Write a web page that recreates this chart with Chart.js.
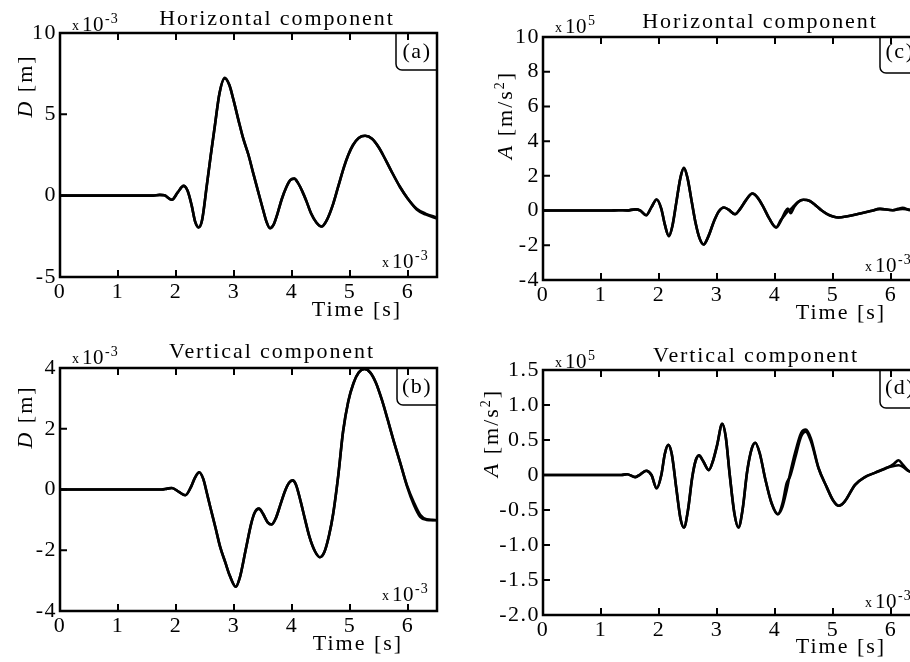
<!DOCTYPE html>
<html>
<head>
<meta charset="utf-8">
<script src="https://cdn.jsdelivr.net/npm/chart.js@4.4.1/dist/chart.umd.min.js"></script>
<style>
html,body{margin:0;padding:0;background:#fff;overflow:hidden;width:910px;height:662px;position:relative}
canvas{position:absolute;display:block}
</style>
</head>
<body>
<script>
// ---- tick labels ----
const xTicks = [0, 1, 2, 3, 4, 5, 6];
const yTicksA = [-5, 0, 5, 10];
const yTicksB = [-4, -2, 0, 2, 4];
const yTicksC = [-4, -2, 0, 2, 4, 6, 8, 10];
const yTicksD = [-2, -1.5, -1, -0.5, 0, 0.5, 1, 1.5];

// ---- (a) horizontal displacement, x1e-3 m, time x1e-3 s ----
const timeA = [0, 1.6, 1.72, 1.8, 1.93, 2.03, 2.13, 2.2, 2.27, 2.33, 2.39, 2.45, 2.53, 2.6, 2.67, 2.75, 2.84, 2.92, 2.99, 3.08, 3.16, 3.25, 3.33, 3.42, 3.5, 3.56, 3.62, 3.68, 3.75, 3.82, 3.9, 3.97, 4.04, 4.1, 4.18, 4.25, 4.33, 4.42, 4.51, 4.6, 4.71, 4.8, 4.9, 4.97, 5.05, 5.15, 5.26, 5.38, 5.5, 5.57, 5.7, 5.86, 6.0, 6.15, 6.3, 6.5];
const dispA1 = [0, 0, 0.05, 0.02, -0.25, 0.2, 0.6, 0.3, -0.6, -1.6, -1.95, -1.5, 0.6, 2.5, 4.3, 6.3, 7.25, 6.8, 5.9, 4.6, 3.5, 2.5, 1.4, 0.2, -0.85, -1.6, -2.0, -1.8, -1.1, -0.25, 0.5, 0.95, 1.05, 0.8, 0.25, -0.35, -1.1, -1.65, -1.9, -1.5, -0.5, 0.6, 1.8, 2.5, 3.1, 3.55, 3.68, 3.5, 2.95, 2.5, 1.6, 0.55, -0.2, -0.85, -1.15, -1.4];
const dispA2 = [0, 0, 0.05, 0.02, -0.25, 0.2, 0.6, 0.3, -0.6, -1.6, -1.95, -1.5, 0.6, 2.5, 4.3, 6.3, 7.2, 6.8, 5.9, 4.6, 3.5, 2.5, 1.4, 0.2, -0.85, -1.6, -2.0, -1.8, -1.1, -0.25, 0.5, 0.95, 1.05, 0.8, 0.25, -0.35, -1.1, -1.65, -1.9, -1.5, -0.5, 0.6, 1.8, 2.5, 3.1, 3.55, 3.68, 3.5, 2.95, 2.5, 1.6, 0.55, -0.2, -0.8, -1.1, -1.35];

// ---- (b) vertical displacement ----
const timeB = [0, 1.75, 1.85, 1.93, 2.05, 2.16, 2.25, 2.33, 2.40, 2.47, 2.53, 2.59, 2.68, 2.76, 2.85, 2.93, 3.03, 3.1, 3.2, 3.3, 3.36, 3.43, 3.5, 3.58, 3.65, 3.72, 3.8, 3.88, 3.95, 4.01, 4.07, 4.15, 4.22, 4.3, 4.4, 4.48, 4.56, 4.64, 4.71, 4.8, 4.88, 4.97, 5.06, 5.15, 5.25, 5.35, 5.45, 5.55, 5.65, 5.75, 5.87, 5.98, 6.1, 6.21, 6.32, 6.42, 6.5];
const dispB1 = [0, 0, 0.03, 0.05, -0.08, -0.19, 0.05, 0.4, 0.57, 0.35, -0.1, -0.57, -1.25, -1.88, -2.4, -2.85, -3.2, -2.9, -2.0, -1.1, -0.75, -0.63, -0.8, -1.08, -1.15, -0.95, -0.5, -0.05, 0.22, 0.3, 0.15, -0.4, -0.95, -1.55, -2.05, -2.23, -2.05, -1.5, -0.8, 0.5, 1.9, 2.9, 3.5, 3.85, 3.97, 3.85, 3.5, 2.95, 2.3, 1.62, 0.85, 0.15, -0.42, -0.83, -0.98, -1.0, -1.01];
const dispB2 = [0, 0, 0.03, 0.05, -0.08, -0.19, 0.05, 0.4, 0.57, 0.35, -0.1, -0.57, -1.25, -1.88, -2.4, -2.85, -3.2, -2.9, -2.0, -1.1, -0.75, -0.63, -0.8, -1.08, -1.15, -0.95, -0.5, -0.05, 0.22, 0.3, 0.15, -0.4, -0.95, -1.55, -2.05, -2.23, -2.05, -1.5, -0.8, 0.5, 1.9, 2.9, 3.5, 3.85, 3.97, 3.85, 3.5, 2.95, 2.3, 1.62, 0.85, 0.12, -0.5, -0.9, -1.0, -1.01, -1.01];

// ---- (c) horizontal acceleration, x1e5 m/s2 ----
const timeC = [0, 1.15, 1.3, 1.45, 1.59, 1.68, 1.78, 1.87, 1.96, 2.04, 2.1, 2.17, 2.23, 2.3, 2.37, 2.43, 2.49, 2.56, 2.63, 2.7, 2.77, 2.85, 2.95, 3.03, 3.12, 3.2, 3.31, 3.4, 3.5, 3.61, 3.7, 3.8, 3.9, 4.02, 4.1, 4.17, 4.22, 4.27, 4.33, 4.4, 4.49, 4.6, 4.7, 4.8, 4.9, 5.0, 5.09, 5.25, 5.47, 5.65, 5.81, 6.03, 6.12, 6.2, 6.33, 6.5];
const accC1 = [0, 0, 0.02, 0.01, 0.07, 0.0, -0.27, 0.2, 0.64, 0.1, -0.8, -1.47, -0.9, 0.5, 1.9, 2.46, 1.9, 0.6, -0.7, -1.6, -1.95, -1.5, -0.6, -0.05, 0.18, 0.05, -0.21, 0.1, 0.6, 0.98, 0.75, 0.2, -0.45, -0.97, -0.6, -0.1, 0.12, -0.15, 0.2, 0.5, 0.62, 0.55, 0.3, 0.02, -0.2, -0.34, -0.4, -0.33, -0.17, -0.03, 0.1, 0.02, 0.1, 0.16, 0.02, 0.05];
const accC2 = [0, 0, 0.02, 0.01, 0.07, 0.0, -0.27, 0.2, 0.64, 0.1, -0.8, -1.47, -0.9, 0.5, 1.9, 2.46, 1.9, 0.6, -0.7, -1.6, -1.95, -1.5, -0.6, -0.05, 0.18, 0.05, -0.21, 0.1, 0.6, 0.98, 0.75, 0.2, -0.45, -0.97, -0.55, -0.25, -0.05, 0.08, 0.28, 0.5, 0.62, 0.55, 0.3, 0.02, -0.2, -0.34, -0.4, -0.33, -0.17, -0.03, 0.1, 0.02, 0.06, 0.1, 0.05, 0.05];

// ---- (d) vertical acceleration ----
const timeD = [0, 1.35, 1.45, 1.59, 1.68, 1.78, 1.87, 1.96, 2.04, 2.1, 2.16, 2.22, 2.3, 2.37, 2.43, 2.5, 2.57, 2.63, 2.69, 2.76, 2.86, 2.93, 3.0, 3.09, 3.15, 3.22, 3.3, 3.37, 3.44, 3.52, 3.6, 3.66, 3.74, 3.83, 3.94, 4.05, 4.13, 4.2, 4.26, 4.35, 4.45, 4.53, 4.62, 4.75, 4.89, 5.0, 5.1, 5.2, 5.38, 5.55, 5.72, 5.95, 6.05, 6.13, 6.2, 6.3, 6.5];
const accD1 = [0, 0, 0.01, -0.03, 0.01, 0.06, 0.0, -0.19, 0.0, 0.3, 0.43, 0.3, -0.2, -0.62, -0.75, -0.5, -0.05, 0.2, 0.28, 0.2, 0.07, 0.2, 0.42, 0.73, 0.55, 0.0, -0.55, -0.75, -0.5, 0.05, 0.38, 0.46, 0.3, -0.05, -0.4, -0.56, -0.4, -0.12, -0.02, 0.25, 0.55, 0.62, 0.48, 0.1, -0.17, -0.36, -0.44, -0.38, -0.14, -0.03, 0.03, 0.11, 0.16, 0.21, 0.15, 0.06, 0.02];
const accD2 = [0, 0, 0.01, -0.03, 0.01, 0.06, 0.0, -0.19, 0.0, 0.3, 0.43, 0.3, -0.2, -0.62, -0.75, -0.5, -0.05, 0.2, 0.28, 0.2, 0.07, 0.2, 0.42, 0.73, 0.55, 0.0, -0.55, -0.75, -0.5, 0.05, 0.38, 0.46, 0.3, -0.05, -0.4, -0.56, -0.45, -0.22, 0.02, 0.33, 0.6, 0.65, 0.52, 0.1, -0.17, -0.36, -0.44, -0.38, -0.14, -0.03, 0.03, 0.11, 0.13, 0.14, 0.12, 0.06, 0.02];

const SERIF = '"Liberation Serif", "Times New Roman", serif';

function drawMult(ctx, x, y, exp) {
  ctx.textAlign = 'left';
  ctx.textBaseline = 'alphabetic';
  ctx.letterSpacing = '0px';
  ctx.font = '14px ' + SERIF;
  ctx.fillText('x', x, y - 1);
  x += ctx.measureText('x').width + 3;
  ctx.font = '21px ' + SERIF;
  ctx.letterSpacing = '0.5px';
  ctx.fillText('10', x, y);
  x += ctx.measureText('10').width + 1;
  ctx.font = '14px ' + SERIF;
  ctx.letterSpacing = '1px';
  ctx.fillText(exp, x, y - 8);
}

function decor(cfg) {
  return {
    id: 'decor_' + cfg.id,
    beforeDraw(chart) { chart.ctx.letterSpacing = '1.5px'; },
    afterDraw(chart) {
      const ctx = chart.ctx, a = chart.chartArea;
      const ox = cfg.box.x, oy = cfg.box.y;
      const xs = chart.scales.x, ys = chart.scales.y;
      ctx.save();
      ctx.strokeStyle = '#000';
      ctx.fillStyle = '#000';
      // frame
      ctx.lineWidth = 2.5;
      ctx.strokeRect(a.left, a.top, a.right - a.left, a.bottom - a.top);
      // inward tick marks
      ctx.lineWidth = 2;
      ctx.beginPath();
      xTicks.forEach(v => {
        const px = xs.getPixelForValue(v);
        ctx.moveTo(px, a.bottom); ctx.lineTo(px, a.bottom - 7);
        ctx.moveTo(px, a.top); ctx.lineTo(px, a.top + 7);
      });
      cfg.yTicks.forEach(v => {
        const py = ys.getPixelForValue(v);
        ctx.moveTo(a.left, py); ctx.lineTo(a.left + 7, py);
      });
      ctx.stroke();
      // panel tag box
      const t = cfg.tag;
      ctx.lineWidth = 1.5;
      ctx.beginPath();
      const bl = t.boxL - ox, bb = t.boxB - oy, r = 6;
      ctx.moveTo(bl, a.top);
      ctx.lineTo(bl, bb - r);
      ctx.arcTo(bl, bb, bl + r, bb, r);
      ctx.lineTo(a.right, bb);
      ctx.stroke();
      ctx.font = '22px ' + SERIF;
      ctx.letterSpacing = '1.5px';
      ctx.textAlign = 'center';
      ctx.textBaseline = 'alphabetic';
      ctx.fillText(t.s, t.tx - ox, t.ty - oy);
      // title
      ctx.font = '22px ' + SERIF;
      ctx.letterSpacing = '1.9px';
      ctx.fillText(cfg.title.s, cfg.title.x - ox, cfg.title.y - oy);
      // x-axis title
      ctx.letterSpacing = '2px';
      ctx.fillText('Time [s]', cfg.xlab.x - ox, cfg.xlab.y - oy);
      // y-axis title (rotated)
      ctx.save();
      ctx.translate(cfg.ylab.x - ox, cfg.ylab.y - oy);
      ctx.rotate(-Math.PI / 2);
      ctx.textAlign = 'left';
      ctx.letterSpacing = '2px';
      let total = 0;
      cfg.ylab.parts.forEach(p => {
        ctx.font = p.f;
        total += ctx.measureText(p.s).width;
      });
      let px = -total / 2;
      cfg.ylab.parts.forEach(p => {
        ctx.font = p.f;
        ctx.fillText(p.s, px, p.dy || 0);
        px += ctx.measureText(p.s).width;
      });
      ctx.restore();
      // multipliers
      drawMult(ctx, cfg.mTop.x - ox, cfg.mTop.y - oy, cfg.mTop.e);
      drawMult(ctx, cfg.mBot.x - ox, cfg.mBot.y - oy, cfg.mBot.e);
      ctx.restore();
    }
  };
}

function panel(cfg) {
  const B = cfg.box, P = cfg.plot;
  const cv = document.createElement('canvas');
  cv.id = cfg.id;
  cv.width = B.w; cv.height = B.h;
  cv.style.left = B.x + 'px'; cv.style.top = B.y + 'px';
  cv.style.width = B.w + 'px'; cv.style.height = B.h + 'px';
  document.body.appendChild(cv);
  const tickFont = {family: SERIF, size: 22};
  const datasets = cfg.series.map(vals => ({
    data: cfg.time.map((t, i) => ({x: t, y: vals[i]})),
    borderColor: '#000',
    borderWidth: 2.6,
    pointRadius: 0,
    fill: false,
    cubicInterpolationMode: 'monotone'
  }));
  new Chart(cv, {
    type: 'line',
    data: {datasets},
    options: {
      responsive: false,
      animation: false,
      devicePixelRatio: 1,
      events: [],
      layout: {padding: {left: 0, bottom: 0, top: P.t - B.y, right: B.x + B.w - P.r}},
      plugins: {legend: {display: false}, tooltip: {enabled: false}, title: {display: false}},
      scales: {
        x: {
          type: 'linear', min: 0, max: 6.5,
          afterBuildTicks: s => { s.ticks = xTicks.map(v => ({value: v})); },
          afterFit: s => { s.height = B.y + B.h - P.b; },
          grid: {display: false, drawTicks: false},
          border: {display: false},
          ticks: {font: tickFont, color: '#000', padding: 2, maxRotation: 0, autoSkip: false,
                  callback: v => String(v)}
        },
        y: {
          type: 'linear', min: cfg.yMin, max: cfg.yMax,
          afterBuildTicks: s => { s.ticks = cfg.yTicks.map(v => ({value: v})); },
          afterFit: s => { s.width = P.l - B.x; },
          grid: {display: false, drawTicks: false},
          border: {display: false},
          ticks: {font: tickFont, color: '#000', padding: 3, autoSkip: false, callback: cfg.yFmt}
        }
      }
    },
    plugins: [decor(cfg)]
  });
}

const it = 'italic 22px ' + SERIF, rg = '22px ' + SERIF, sm = '14px ' + SERIF;
const intFmt = v => String(v);
const decFmt = v => (v === 0 ? '0' : v.toFixed(1));

panel({
  id: 'pa', box: {x: 0, y: 0, w: 455, h: 331}, plot: {l: 60, r: 437, t: 33, b: 277},
  time: timeA, series: [dispA1, dispA2], yMin: -5, yMax: 10, yTicks: yTicksA, yFmt: intFmt,
  title: {s: 'Horizontal component', x: 277, y: 25},
  xlab: {x: 357, y: 316},
  ylab: {x: 32, y: 86, parts: [{s: 'D', f: it}, {s: ' [m]', f: rg}]},
  mTop: {x: 72, y: 31, e: '-3'}, mBot: {x: 382, y: 268, e: '-3'},
  tag: {s: '(a)', boxL: 396, boxB: 70, tx: 417, ty: 58}
});
panel({
  id: 'pb', box: {x: 0, y: 331, w: 455, h: 331}, plot: {l: 60, r: 437, t: 368, b: 611},
  time: timeB, series: [dispB1, dispB2], yMin: -4, yMax: 4, yTicks: yTicksB, yFmt: intFmt,
  title: {s: 'Vertical component', x: 272, y: 358},
  xlab: {x: 358, y: 650},
  ylab: {x: 32, y: 417, parts: [{s: 'D', f: it}, {s: ' [m]', f: rg}]},
  mTop: {x: 72, y: 364, e: '-3'}, mBot: {x: 382, y: 601, e: '-3'},
  tag: {s: '(b)', boxL: 397, boxB: 405, tx: 417, ty: 393}
});
panel({
  id: 'pc', box: {x: 455, y: 0, w: 475, h: 331}, plot: {l: 543, r: 920, t: 37, b: 280},
  time: timeC, series: [accC1, accC2], yMin: -4, yMax: 10, yTicks: yTicksC, yFmt: intFmt,
  title: {s: 'Horizontal component', x: 760, y: 28},
  xlab: {x: 841, y: 319},
  ylab: {x: 512, y: 115, parts: [{s: 'A', f: it}, {s: ' [m/s', f: rg}, {s: '2', f: sm, dy: -8}, {s: ']', f: rg}]},
  mTop: {x: 555, y: 33, e: '5'}, mBot: {x: 865, y: 272, e: '-3'},
  tag: {s: '(c)', boxL: 880, boxB: 73, tx: 900, ty: 58}
});
panel({
  id: 'pd', box: {x: 455, y: 331, w: 475, h: 331}, plot: {l: 543, r: 920, t: 370, b: 615},
  time: timeD, series: [accD1, accD2], yMin: -2, yMax: 1.5, yTicks: yTicksD, yFmt: decFmt,
  title: {s: 'Vertical component', x: 756, y: 362},
  xlab: {x: 841, y: 653},
  ylab: {x: 498, y: 433, parts: [{s: 'A', f: it}, {s: ' [m/s', f: rg}, {s: '2', f: sm, dy: -8}, {s: ']', f: rg}]},
  mTop: {x: 555, y: 368, e: '5'}, mBot: {x: 865, y: 608, e: '-3'},
  tag: {s: '(d)', boxL: 880, boxB: 408, tx: 900, ty: 394}
});
</script>
</body>
</html>
